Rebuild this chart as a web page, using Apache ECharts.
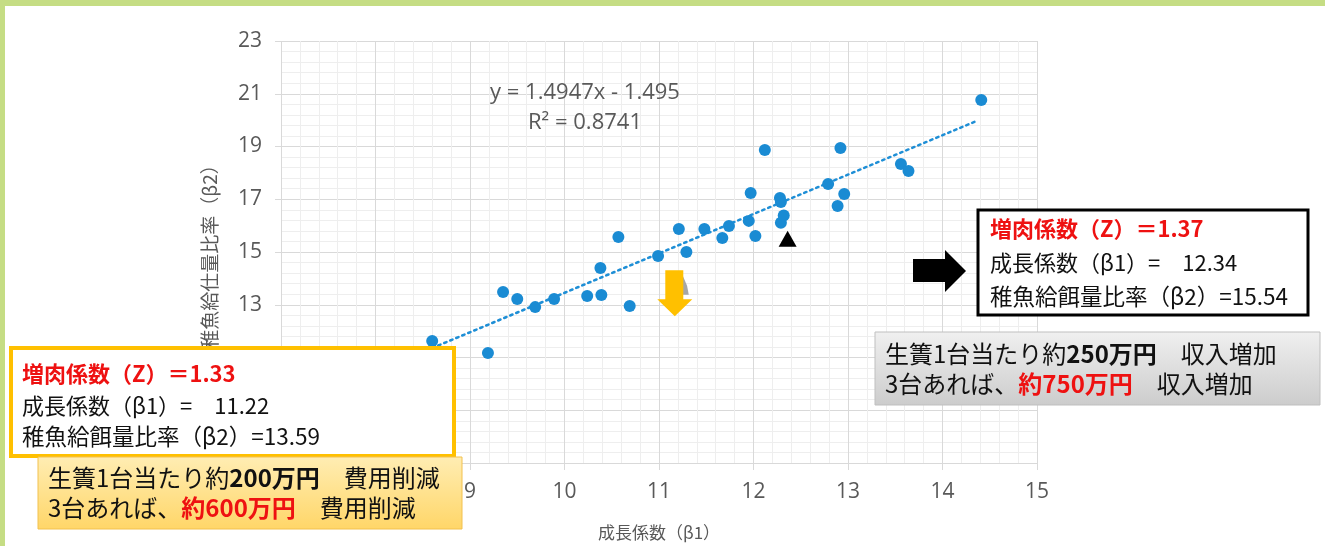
<!DOCTYPE html>
<html><head><meta charset="utf-8">
<script src="https://cdn.jsdelivr.net/npm/echarts@6/dist/echarts.min.js"></script>
<style>html,body{margin:0;padding:0;background:#fff}#c{width:1325px;height:546px}</style>
</head><body><div id="c"></div>
<script>
// ---- data ----
const beta1 = [8.60, 9.19, 9.35, 9.50, 9.69, 9.89, 10.24, 10.38, 10.39, 10.57, 10.69, 10.99, 11.21, 11.29, 11.48, 11.67, 11.74, 11.95, 11.97, 12.02, 12.12, 12.28, 12.29, 12.29, 12.32, 12.79, 12.89, 12.92, 12.96, 13.56, 13.64, 14.41];
const beta2 = [11.63, 11.17, 13.48, 13.22, 12.91, 13.22, 13.33, 14.39, 13.37, 15.57, 12.95, 14.85, 15.87, 15.00, 15.87, 15.53, 15.99, 16.18, 17.24, 15.61, 18.87, 17.05, 16.90, 16.11, 16.38, 17.58, 16.74, 18.94, 17.20, 18.34, 18.07, 20.76];
const trendX = [8.60, 14.37];
const trendY = [11.36, 19.98];
const markNow = [11.22, 13.59];   // 増肉係数 1.33 case
const markNew = [12.34, 15.54];   // 増肉係数 1.37 case
const xTicks = {min: 7, max: 15, interval: 1};
const yTicks = {min: 7, max: 23, interval: 2};
const eqText = ['y = 1.4947x - 1.495', 'R² = 0.8741'];

const points = beta1.map((x, i) => [x, beta2[i]]);
const trend = trendX.map((x, i) => [x, trendY[i]]);

const grey = '#595959';
const red = '#EE1111';
const jp = '"Noto Sans CJK JP", "Noto Sans", sans-serif';
const num = '"Open Sans", "Noto Sans", sans-serif';

const chart = echarts.init(document.getElementById('c'), null, {renderer: 'canvas'});
chart.setOption({
  animation: false,
  backgroundColor: '#ffffff',
  grid: {left: 281, right: 288, top: 41, bottom: 83},
  xAxis: {
    type: 'value', min: xTicks.min, max: xTicks.max, interval: xTicks.interval,
    name: '成長係数（β1）', nameLocation: 'middle', nameGap: 61,
    nameTextStyle: {color: grey, fontSize: 17, fontFamily: jp},
    axisLine: {show: true, lineStyle: {color: '#d9d9d9', width: 1}},
    axisTick: {show: true, length: 7, lineStyle: {color: '#d9d9d9'}},
    axisLabel: {color: grey, fontSize: 21, fontFamily: num, margin: 19},
    splitLine: {show: true, lineStyle: {color: '#d9d9d9', width: 1}},
    minorTick: {show: false, splitNumber: 5},
    minorSplitLine: {show: true, lineStyle: {color: '#eeeeee', width: 1}}
  },
  yAxis: {
    type: 'value', min: yTicks.min, max: yTicks.max, interval: yTicks.interval,
    name: '稚魚給仕量比率（β2）', nameLocation: 'middle', nameGap: 62,
    nameTextStyle: {color: grey, fontSize: 19, fontFamily: jp},
    axisLine: {show: false},
    axisTick: {show: true, length: 6, lineStyle: {color: '#d9d9d9'}},
    axisLabel: {color: grey, fontSize: 21, fontFamily: num, margin: 19},
    splitLine: {show: true, lineStyle: {color: '#d9d9d9', width: 1}},
    minorTick: {show: false, splitNumber: 5},
    minorSplitLine: {show: true, lineStyle: {color: '#eeeeee', width: 1}}
  },
  series: [
    {
      type: 'line', data: trend, symbol: 'none', z: 3,
      lineStyle: {color: '#1F8FD6', width: 2.5, type: [2.5, 4], cap: 'round'}
    },
    {
      type: 'scatter', data: points, symbol: 'circle', symbolSize: 12, z: 4,
      itemStyle: {color: '#1A8BD3', opacity: 1}
    },
    {
      type: 'scatter', data: [markNew], symbol: 'triangle', symbolSize: [18, 16],
      symbolOffset: [2, 1], z: 5, itemStyle: {color: '#000000', opacity: 1}
    },
    {
      type: 'scatter', data: [markNow], z: 5,
      symbol: 'path://M0,0 L5,10 L7,19 L0,19 Z', symbolSize: [6, 19], symbolOffset: [6, -4],
      itemStyle: {color: '#A6A6A6', opacity: 1}
    },
    {
      type: 'scatter', data: [markNow], z: 6,
      symbol: 'path://M8,0 L26,0 L26,29 L35,29 L17.5,46 L0,29 L8,29 Z',
      symbolSize: [35, 46], symbolOffset: [-5, 4],
      itemStyle: {color: '#FFC000', opacity: 1}
    }
  ],
  graphic: [
    // green frame
    {type: 'rect', shape: {x: 0, y: 0, width: 1325, height: 6}, style: {fill: '#C5DD84'}, z: 200},
    {type: 'rect', shape: {x: 0, y: 0, width: 5, height: 546}, style: {fill: '#C5DD84'}, z: 200},
    // regression equation
    {type: 'text', x: 585, y: 93, z: 50, style: {text: eqText[0], font: '22px ' + num, fill: grey, textAlign: 'center', textVerticalAlign: 'middle'}},
    {type: 'text', x: 585, y: 123, z: 50, style: {text: eqText[1], font: '22px ' + num, fill: grey, textAlign: 'center', textVerticalAlign: 'middle'}},
    // black right arrow
    {type: 'polygon', z: 50, shape: {points: [[913, 259], [945, 259], [945, 250], [966, 271], [945, 292], [945, 282], [913, 282]]}, style: {fill: '#000'}},
    // right black box
    {type: 'rect', z: 60, shape: {x: 978, y: 210, width: 330, height: 105}, style: {fill: '#fff', stroke: '#000', lineWidth: 3}},
    {type: 'text', z: 61, x: 990, y: 229, style: {text: '増肉係数（Z）＝1.37', font: 'bold 22px ' + jp, fill: red, textVerticalAlign: 'middle'}},
    {type: 'text', z: 61, x: 990, y: 263, style: {text: '成長係数（β1）=　12.34', font: '22px ' + jp, fill: '#111', textVerticalAlign: 'middle'}},
    {type: 'text', z: 61, x: 990, y: 296, style: {text: '稚魚給餌量比率（β2）=15.54', font: '22.5px ' + jp, fill: '#111', textVerticalAlign: 'middle'}},
    // grey box
    {type: 'rect', z: 60, shape: {x: 875, y: 332, width: 445, height: 73},
      style: {stroke: '#BFBFBF', lineWidth: 1,
        fill: new echarts.graphic.LinearGradient(0, 0, 0, 1, [{offset: 0, color: '#F0F0F0'}, {offset: 1, color: '#CCCCCC'}])}},
    {type: 'text', z: 61, x: 885, y: 354, style: {text: '生簀1台当たり約{b|250万円}　収入増加', font: '24px ' + jp, fill: '#111', textVerticalAlign: 'middle',
      rich: {b: {font: 'bold 24px ' + jp, fill: '#111'}}}},
    {type: 'text', z: 61, x: 885, y: 384, style: {text: '3台あれば、{r|約750万円}　収入増加', font: '24px ' + jp, fill: '#111', textVerticalAlign: 'middle',
      rich: {r: {font: 'bold 24px ' + jp, fill: red}}}},
    // left yellow-border box
    {type: 'rect', z: 60, shape: {x: 11, y: 348, width: 443, height: 108}, style: {fill: '#fff', stroke: '#FFC000', lineWidth: 4}},
    {type: 'text', z: 61, x: 22, y: 374, style: {text: '増肉係数（Z）＝1.33', font: 'bold 22px ' + jp, fill: red, textVerticalAlign: 'middle'}},
    {type: 'text', z: 61, x: 22, y: 406, style: {text: '成長係数（β1）=　11.22', font: '22px ' + jp, fill: '#111', textVerticalAlign: 'middle'}},
    {type: 'text', z: 61, x: 22, y: 436, style: {text: '稚魚給餌量比率（β2）=13.59', font: '22.5px ' + jp, fill: '#111', textVerticalAlign: 'middle'}},
    // orange box
    {type: 'rect', z: 62, shape: {x: 38, y: 457, width: 424, height: 72},
      style: {stroke: '#F2C14E', lineWidth: 1,
        fill: new echarts.graphic.LinearGradient(0, 0, 0, 1, [{offset: 0, color: '#FFEDB3'}, {offset: 1, color: '#FFD668'}])}},
    {type: 'text', z: 63, x: 48, y: 478, style: {text: '生簀1台当たり約{b|200万円}　費用削減', font: '24px ' + jp, fill: '#111', textVerticalAlign: 'middle',
      rich: {b: {font: 'bold 24px ' + jp, fill: '#111'}}}},
    {type: 'text', z: 63, x: 48, y: 508, style: {text: '3台あれば、{r|約600万円}　費用削減', font: '24px ' + jp, fill: '#111', textVerticalAlign: 'middle',
      rich: {r: {font: 'bold 24px ' + jp, fill: red}}}}
  ]
});
</script></body></html>
